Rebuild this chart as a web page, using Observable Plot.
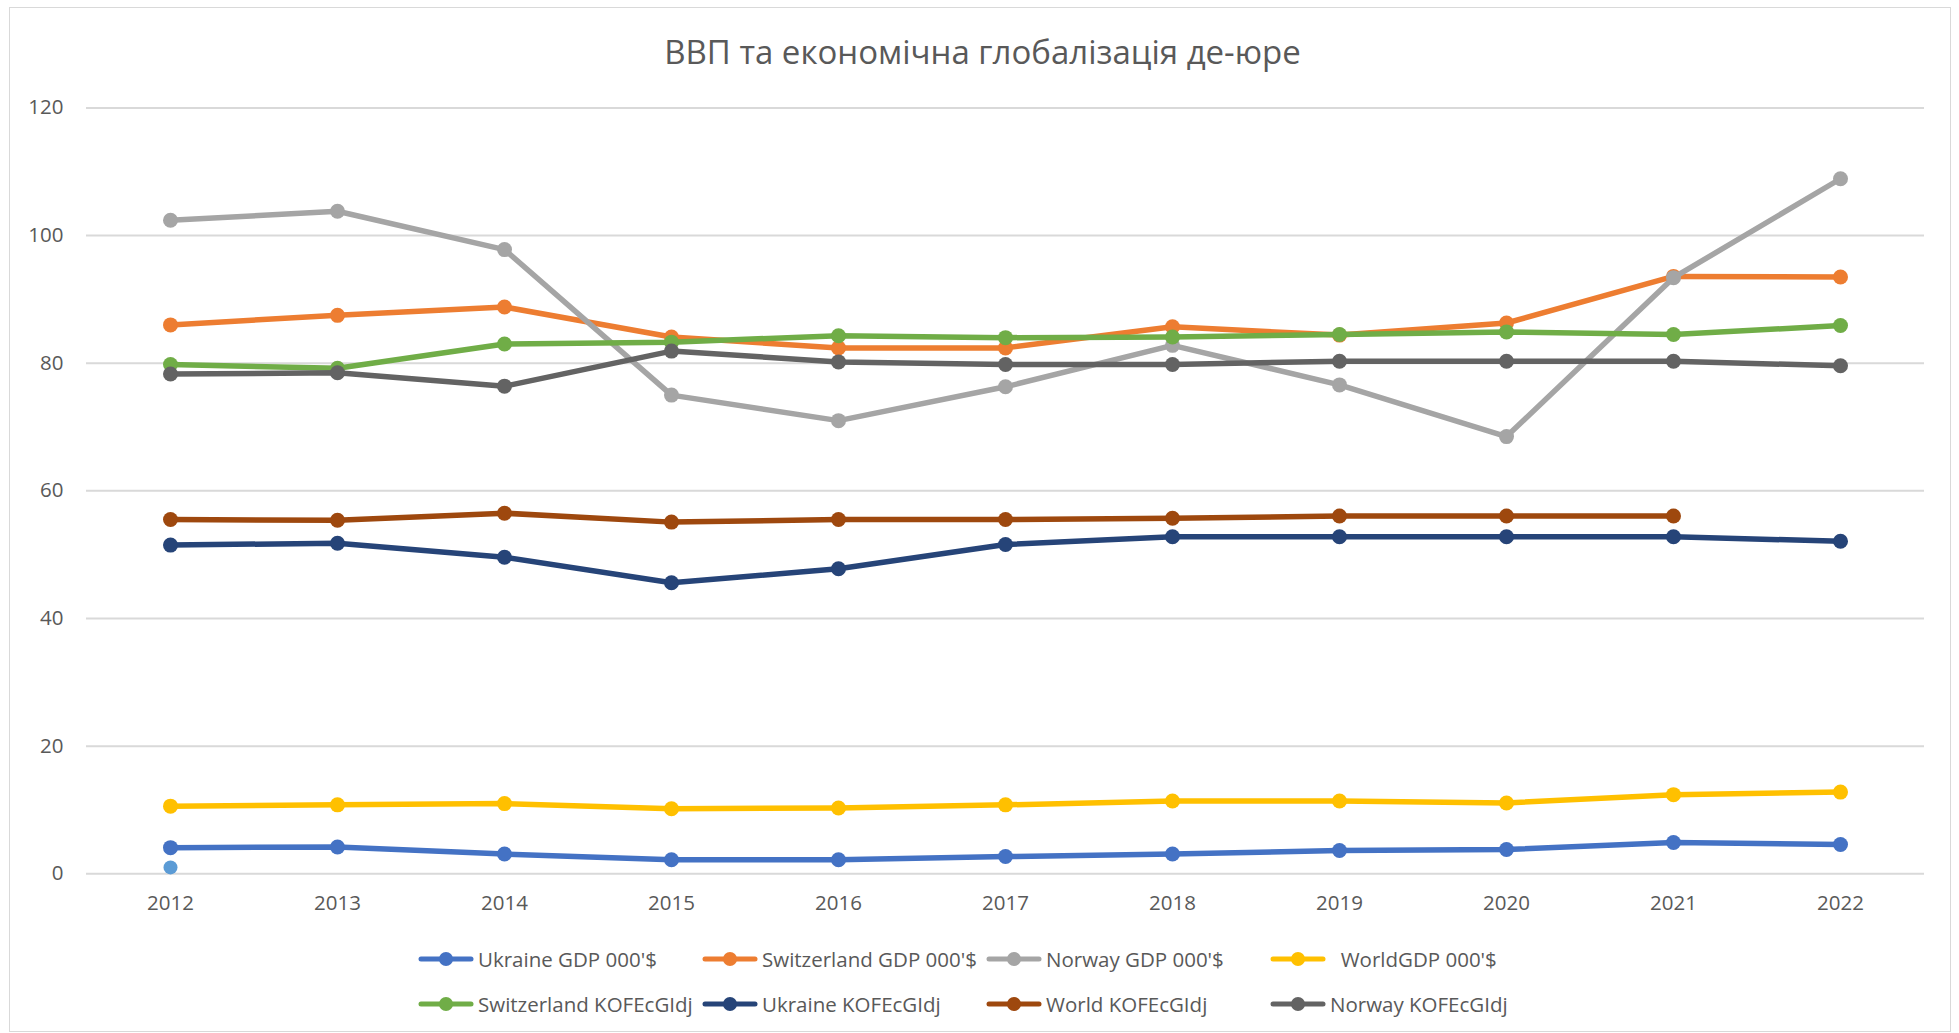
<!DOCTYPE html>
<html>
<head>
<meta charset="utf-8">
<script src="https://cdn.jsdelivr.net/npm/d3@7"></script>
<script src="https://cdn.jsdelivr.net/npm/@observablehq/plot@0.6"></script>
<style>
  html, body { margin: 0; padding: 0; background: #fff; }
  body { width: 1959px; height: 1033px; overflow: hidden; position: relative; font-family: 'Open Sans', sans-serif; color: #595959; }
  #frame { position: absolute; left: 9px; top: 7px; width: 1940px; height: 1023px; border: 1px solid #d9d9d9; pointer-events: none; }
  #title { height: 80px; box-sizing: border-box; padding-top: 35px; font-size: 33px; line-height: 1; text-align: center; color: #595959; padding-left: 6px; }
  #legend { padding-top: 6px; }
  .row { display: grid; grid-template-columns: 284px 284px 284px 300px; margin-left: 418px; height: 45px; }
  .item { display: flex; align-items: center; font-size: 20.5px; white-space: pre; color: #595959; }
  .item svg { flex: none; margin-right: 4px; }
</style>
</head>
<body>
<div id="frame"></div>
<div id="title">ВВП та економічна глобалізація де-юре</div>
<div id="chart"></div>
<div id="legend"></div>
<script>
const years = [2012, 2013, 2014, 2015, 2016, 2017, 2018, 2019, 2020, 2021, 2022];
const yTicks = [0, 20, 40, 60, 80, 100, 120];

const ukraineGDP      = [4.1, 4.2, 3.1, 2.2, 2.2, 2.7, 3.1, 3.65, 3.8, 4.9, 4.6];
const switzerlandGDP  = [86.0, 87.5, 88.8, 84.1, 82.4, 82.4, 85.7, 84.4, 86.3, 93.6, 93.5];
const norwayGDP       = [102.4, 103.8, 97.8, 75.0, 71.0, 76.3, 82.8, 76.6, 68.5, 93.4, 108.9];
const worldGDP        = [10.6, 10.8, 11.0, 10.2, 10.3, 10.8, 11.4, 11.4, 11.1, 12.4, 12.8];
const switzerlandKOF  = [79.8, 79.2, 83.0, 83.3, 84.3, 84.0, 84.1, 84.5, 84.9, 84.5, 85.9];
const ukraineKOF      = [51.5, 51.8, 49.6, 45.6, 47.8, 51.6, 52.8, 52.8, 52.8, 52.8, 52.1];
const worldKOF        = [55.5, 55.4, 56.5, 55.1, 55.5, 55.5, 55.7, 56.05, 56.05, 56.05, null];
const norwayKOF       = [78.3, 78.5, 76.4, 81.9, 80.2, 79.8, 79.8, 80.3, 80.3, 80.3, 79.6];
const extraYears      = [2012];
const extraValues     = [1.0];

const seriesNames = ["Ukraine GDP 000'$", "Switzerland GDP 000'$", "Norway GDP 000'$", "  WorldGDP 000'$",
                     "Switzerland KOFEcGIdj", "Ukraine KOFEcGIdj", "World KOFEcGIdj", "Norway KOFEcGIdj"];
const seriesValues = [ukraineGDP, switzerlandGDP, norwayGDP, worldGDP, switzerlandKOF, ukraineKOF, worldKOF, norwayKOF];
const seriesColors = ["#4472C4", "#ED7D31", "#A5A5A5", "#FFC000", "#70AD47", "#264478", "#9E480E", "#636363"];
const extraColor = "#5B9BD5";

const marks = [
  Plot.gridY(yTicks, {stroke: "#d9d9d9", strokeOpacity: 1, strokeWidth: 2}),
  Plot.axisY({ticks: yTicks, tickSize: 0, tickPadding: 23, label: null}),
  Plot.axisX({tickSize: 0, tickPadding: 22, label: null, tickFormat: d => String(d)})
];
seriesValues.forEach((vals, i) => {
  const rows = years.map((y, j) => ({year: y, value: vals[j]}));
  marks.push(Plot.line(rows, {x: "year", y: "value", stroke: seriesColors[i], strokeWidth: 5.5, strokeLinejoin: "round", strokeLinecap: "round"}));
  marks.push(Plot.dot(rows.filter(d => d.value != null), {x: "year", y: "value", fill: seriesColors[i], r: 7.5, stroke: "none"}));
});
marks.push(Plot.dot(extraYears.map((y, j) => ({year: y, value: extraValues[j]})), {x: "year", y: "value", fill: extraColor, r: 7, stroke: "none"}));

const chart = Plot.plot({
  width: 1959,
  height: 850,
  marginLeft: 86,
  marginRight: 35,
  marginTop: 27.4,
  marginBottom: 56.7,
  x: {type: "point", domain: years, padding: 0.5},
  y: {domain: [0, 120]},
  style: {fontFamily: "'Open Sans', sans-serif", fontSize: "20.5px", color: "#595959", background: "transparent", overflow: "visible"},
  marks
});
document.getElementById("chart").appendChild(chart);

// legend
const legend = document.getElementById("legend");
for (let r = 0; r < 2; r++) {
  const row = document.createElement("div");
  row.className = "row";
  for (let c = 0; c < 4; c++) {
    const i = r * 4 + c;
    const item = document.createElement("div");
    item.className = "item";
    item.innerHTML = `<svg width="56" height="20"><line x1="3" y1="10" x2="53" y2="10" stroke="${seriesColors[i]}" stroke-width="5" stroke-linecap="round"/><circle cx="28" cy="10" r="7" fill="${seriesColors[i]}"/></svg>`;
    const span = document.createElement("span");
    span.textContent = seriesNames[i];
    item.appendChild(span);
    row.appendChild(item);
  }
  legend.appendChild(row);
}
</script>
</body>
</html>
